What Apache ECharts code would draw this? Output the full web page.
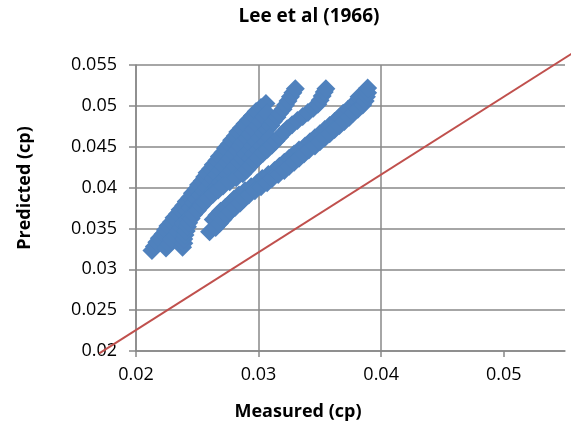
<!DOCTYPE html>
<html><head><meta charset="utf-8">
<script src="https://cdn.jsdelivr.net/npm/echarts@6/dist/echarts.min.js"></script>
<style>html,body{margin:0;padding:0;background:#fff}#c{width:571px;height:422px}</style>
</head><body><div id="c"></div>
<script>
// [measured, predicted] pairs
const band1 = [[0.0213,0.0323],[0.0215,0.0328],[0.0217,0.0333],[0.0219,0.0338],[0.0222,0.0343],[0.0224,0.0348],[0.0226,0.0353],[0.0229,0.0358],[0.0231,0.0363],[0.0234,0.0368],[0.0236,0.0373],[0.0239,0.0378],[0.0241,0.0383],[0.0244,0.0388],[0.0246,0.0393],[0.0249,0.0398],[0.0251,0.0403],[0.0254,0.0408],[0.0256,0.0413],[0.0258,0.0418],[0.0261,0.0423],[0.0263,0.0428],[0.0266,0.0433],[0.0268,0.0438],[0.0271,0.0443],[0.0273,0.0448],[0.0276,0.0453],[0.0278,0.0458],[0.0281,0.0463],[0.0283,0.0468],[0.0286,0.0473],[0.0289,0.0478],[0.0292,0.0483],[0.0295,0.0488],[0.0298,0.0493],[0.0302,0.0498],[0.0306,0.0503]];
const band1b = [[0.02415,0.0371],[0.02445,0.0376],[0.0247,0.0381],[0.0250,0.0386],[0.02525,0.0391],[0.02555,0.0396],[0.0258,0.0401],[0.0261,0.0406],[0.02635,0.0411],[0.0266,0.0416],[0.0269,0.0421],[0.02715,0.0426],[0.02745,0.0431],[0.0277,0.0436],[0.0280,0.0441],[0.02825,0.0446],[0.0285,0.0451],[0.02875,0.0456],[0.02905,0.0461],[0.0293,0.0466],[0.0296,0.0471],[0.0299,0.0476],[0.03015,0.0481],[0.03045,0.0486],[0.0307,0.0491]];
const band2 = [[0.02245,0.0326],[0.0227,0.0331],[0.0229,0.0336],[0.0232,0.0341],[0.0234,0.0346],[0.0237,0.0351],[0.0239,0.0356],[0.0242,0.0361],[0.0245,0.0366],[0.0248,0.0371],[0.0251,0.0376],[0.0254,0.0381],[0.0257,0.0386],[0.0260,0.0391],[0.0263,0.0396],[0.0266,0.0401],[0.0269,0.0406],[0.0272,0.0411],[0.0275,0.0416],[0.0278,0.0421],[0.0281,0.0426],[0.0284,0.0431],[0.0287,0.0436],[0.0290,0.0441],[0.0293,0.0446],[0.0295,0.0451],[0.0298,0.0456],[0.0301,0.0461],[0.0304,0.0466],[0.0307,0.0471],[0.0310,0.0476],[0.0312,0.0481],[0.0315,0.0486],[0.0317,0.0491],[0.0320,0.0496],[0.0322,0.0501],[0.0324,0.0506],[0.0326,0.0511],[0.0328,0.0516],[0.0330,0.0521]];
const band2b = [[0.02935,0.0436],[0.02965,0.0441],[0.0300,0.0446],[0.03025,0.0451],[0.0306,0.0456],[0.0309,0.0461]];
const band3 = [[0.0238,0.0327],[0.0239,0.0332],[0.0239,0.0337],[0.0240,0.0342],[0.0241,0.0347],[0.0242,0.0352],[0.0243,0.0357],[0.0245,0.0362],[0.0247,0.0367],[0.0250,0.0372],[0.0253,0.0377],[0.0256,0.0382],[0.0259,0.0387],[0.0263,0.0392],[0.0267,0.0397],[0.0271,0.0402],[0.02765,0.0407],[0.02818,0.0412],[0.02872,0.0417],[0.02905,0.0422],[0.02935,0.0427],[0.02965,0.0432],[0.0300,0.0437],[0.03036,0.0442],[0.03073,0.0447],[0.0311,0.0452],[0.03141,0.0457],[0.03172,0.0462],[0.03203,0.0467],[0.03234,0.0472],[0.03274,0.0477],[0.03317,0.0482],[0.0336,0.0487],[0.03403,0.0492],[0.03446,0.0497],[0.03484,0.0502],[0.03502,0.0507],[0.03519,0.0512],[0.03536,0.0517],[0.03549,0.0521]];
const band4a = [[0.0263,0.0361],[0.0266,0.0366],[0.0269,0.0371],[0.0273,0.0376],[0.0277,0.0381],[0.0280,0.0386],[0.0284,0.0391],[0.0289,0.0396],[0.0294,0.0401],[0.0299,0.0406],[0.0303,0.0411],[0.0308,0.0416],[0.0313,0.0421],[0.0317,0.0426],[0.0321,0.0431],[0.0325,0.0436],[0.0329,0.0441],[0.0333,0.0446],[0.0338,0.0451],[0.0342,0.0456],[0.0346,0.0461],[0.0350,0.0466],[0.0354,0.0471],[0.0358,0.0476],[0.0362,0.0481],[0.0366,0.0486],[0.0369,0.0491],[0.0373,0.0496],[0.0377,0.0501],[0.0380,0.0506],[0.0382,0.0511]];
const band4b = [[0.0260,0.0346],[0.0265,0.0351],[0.0268,0.0356],[0.0271,0.0361],[0.0274,0.0366],[0.0277,0.0371],[0.0281,0.0376],[0.0285,0.0381],[0.0288,0.0386],[0.0292,0.0391],[0.0297,0.0396],[0.0302,0.0401],[0.0307,0.0406],[0.0311,0.0411],[0.0316,0.0416],[0.0321,0.0421],[0.0325,0.0426],[0.0329,0.0431],[0.0333,0.0436],[0.0337,0.0441],[0.0341,0.0446],[0.0346,0.0451],[0.0350,0.0456],[0.0354,0.0461],[0.0358,0.0466],[0.0362,0.0471],[0.0366,0.0476],[0.0370,0.0481],[0.0374,0.0486],[0.0377,0.0491],[0.0381,0.0496],[0.0385,0.0501],[0.0387,0.0506],[0.0388,0.0511],[0.0389,0.0516],[0.0389,0.0522]];

// reference line end points [measured, predicted]
const refMeasured = [0.0170, 0.0565];
const refPredicted = [0.0197, 0.0573];

// axis ticks
const xTicks = [0.02, 0.03, 0.04, 0.05];
const yTicks = [0.02, 0.025, 0.03, 0.035, 0.04, 0.045, 0.05, 0.055];
const xMax = 0.055;

const title = 'Lee et al (1966)';
const xName = 'Measured (cp)';
const yName = 'Predicted (cp)';

const FONT = '"Open Sans", "Liberation Sans", sans-serif';
const BLUE = '#4F81BD';
const RED = '#C0504D';
const GRID = '#888888';
const fmt = v => String(Number(v.toFixed(4)));

const W = 571, H = 422;
const G = {left: 136, right: 6, top: 65, bottom: 71};
const xMin = xTicks[0], yMin = yTicks[0], yMax = yTicks[yTicks.length - 1];
// overlay axes covering the whole canvas, with the same scale as the main grid
const kx = (W - G.left - G.right) / (xMax - xMin);
const ky = (H - G.top - G.bottom) / (yMax - yMin);
const oxMin = xMin - G.left / kx, oxMax = xMax + G.right / kx;
const oyMin = yMin - G.bottom / ky, oyMax = yMax + G.top / ky;

const chart = echarts.init(document.getElementById('c'), null, {renderer: 'canvas'});
const bands = [band1, band1b, band2, band2b, band3, band4a, band4b];

const option = {
  animation: false,
  backgroundColor: '#ffffff',
  title: {
    text: title, left: 304, top: 2, textAlign: 'center',
    textStyle: {fontFamily: FONT, fontSize: 19, fontWeight: 'bold', color: '#000'}
  },
  grid: [G, {left: 0, right: 0, top: 0, bottom: 0}],
  xAxis: [{
    type: 'value', min: xMin, max: xMax, interval: 0.01,
    axisLine: {show: true, onZero: false, lineStyle: {color: GRID, width: 1.5}},
    axisTick: {show: true, length: 6, customValues: xTicks, lineStyle: {color: GRID, width: 1.5}},
    axisLabel: {margin: 15, fontFamily: FONT, fontSize: 18, color: '#000', customValues: xTicks, formatter: fmt},
    splitLine: {show: true, showMaxLine: false, lineStyle: {color: GRID, width: 1.5}}
  }, {
    type: 'value', gridIndex: 1, min: oxMin, max: oxMax, show: false
  }],
  yAxis: [{
    type: 'value', min: yMin, max: yMax, interval: 0.005,
    axisLine: {show: true, onZero: false, lineStyle: {color: GRID, width: 1.5}},
    axisTick: {show: true, length: 7, lineStyle: {color: GRID, width: 1.5}},
    axisLabel: {margin: 19, fontFamily: FONT, fontSize: 18, color: '#000', formatter: fmt},
    splitLine: {show: true, lineStyle: {color: GRID, width: 1.5}}
  }, {
    type: 'value', gridIndex: 1, min: oyMin, max: oyMax, show: false
  }],
  graphic: [
    {type: 'text', x: 298, y: 412, silent: true,
     style: {text: xName, font: 'bold 18px ' + FONT, fill: '#000', align: 'center', verticalAlign: 'middle', textAlign: 'center', textVerticalAlign: 'middle'}},
    {type: 'text', x: 25, y: 188, rotation: Math.PI / 2, silent: true,
     style: {text: yName, font: 'bold 18px ' + FONT, fill: '#000', align: 'center', verticalAlign: 'middle', textAlign: 'center', textVerticalAlign: 'middle'}}
  ],
  series: bands.map(b => ({
    type: 'scatter', data: b, symbol: 'diamond', symbolSize: 19, silent: true,
    itemStyle: {color: BLUE, opacity: 1}
  })).concat([{
    type: 'line', xAxisIndex: 1, yAxisIndex: 1,
    data: refMeasured.map((m, i) => [m, refPredicted[i]]),
    symbol: 'none', silent: true, z: 3,
    lineStyle: {color: RED, width: 2}
  }])
};
chart.setOption(option);
</script>
</body></html>
